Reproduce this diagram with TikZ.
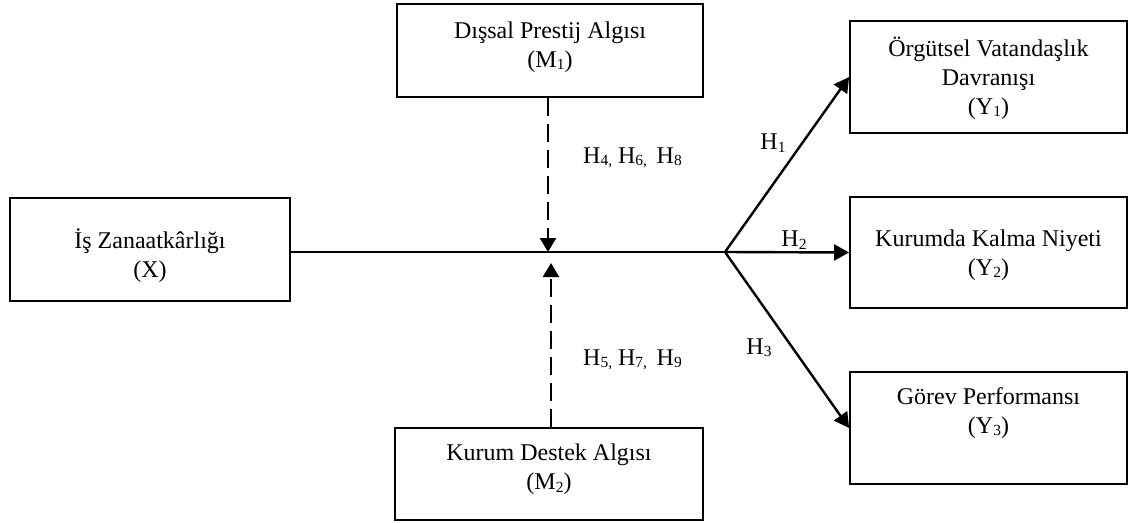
\documentclass[tikz,border=0pt]{standalone}
\usepackage{fontspec}
\setmainfont{Liberation Serif}
\usetikzlibrary{arrows.meta}
\newcommand\sbs[1]{\raisebox{-0.1em}{\fontsize{15.5}{15.5}\selectfont #1}}
\begin{document}
\begin{tikzpicture}[x=1pt,y=-1pt,
  box/.style={draw,line width=1.8pt,inner sep=0pt},
  txt/.style={align=center,inner sep=0pt,font=\fontsize{24}{29}\selectfont},
  conn/.style={line width=2.4pt,-{Triangle[width=16pt,length=15pt]}},
  dasharr/.style={line width=2.4pt,dash pattern=on 18pt off 8pt,-{Triangle[width=16pt,length=14pt]}}]
\useasboundingbox (0,0) rectangle (1132,522);
% boxes
\node[box,minimum width=280pt,minimum height=103pt] (X) at (150,249.5) {};
\node[box,minimum width=306pt,minimum height=93pt] (M1) at (550,50.5) {};
\node[box,minimum width=308pt,minimum height=92pt] (M2) at (549,474) {};
\node[box,minimum width=277pt,minimum height=112pt] (Y1) at (988.5,77) {};
\node[box,minimum width=277pt,minimum height=111pt] (Y2) at (988.5,252.5) {};
\node[box,minimum width=277pt,minimum height=112pt] (Y3) at (988.5,428) {};
% texts
\node[txt] (Xt) at (150,256) {İş Zanaatkârlığı\\(X)};
\node[txt] (M1t) at (550,47) {Dışsal Prestij Algısı\\(M\sbs{1})};
\node[txt] (M2t) at (549,469.5) {Kurum Destek Algısı\\(M\sbs{2})};
\node[txt] (Y1t) at (988.5,78) {Örgütsel Vatandaşlık\\Davranışı\\(Y\sbs{1})};
\node[txt] (Y2t) at (988.5,255) {Kurumda Kalma Niyeti\\(Y\sbs{2})};
\node[txt] (Y3t) at (988.5,413) {Görev Performansı\\(Y\sbs{3})};
% connectors
\coordinate (B) at (725,252);
\coordinate (T1) at (548,252);
\coordinate (T2) at (551,263);
\draw[line width=2.4pt] (X.east |- B) -- (B);
\draw[conn] (B) -- (Y1.west);
\draw[conn] (B) -- (Y2.west);
\draw[conn] (B) -- (Y3.west);
\draw[dasharr] (M1.south -| T1) -- (T1);
\draw[dasharr] (M2.north -| T2) -- (T2);
% labels
\node[txt,anchor=west] (h468) at (583,158) {H\sbs{4,} H\sbs{6,}\hspace{0.4em}H\sbs{8}};
\node[txt,anchor=west] (h579) at (583,360) {H\sbs{5,} H\sbs{7,}\hspace{0.4em}H\sbs{9}};
\node[txt] (h1) at (773,143) {H\sbs{1}};
\node[txt] (h2) at (794,240) {H\sbs{2}};
\node[txt] (h3) at (759,348) {H\sbs{3}};
\end{tikzpicture}
\end{document}
